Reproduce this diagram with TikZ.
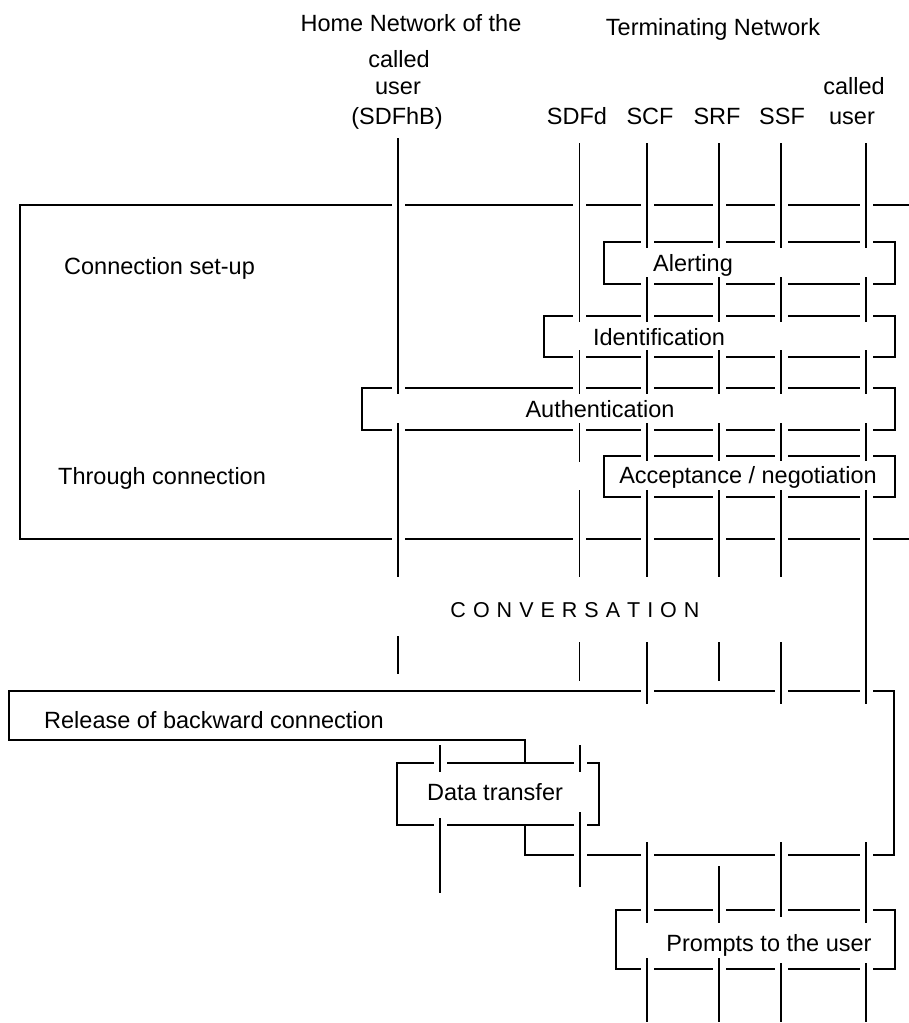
\documentclass[tikz,border=0pt]{standalone}
\usepackage{fontspec}
\setmainfont{Liberation Sans}
% one lifeline segment: x, y-from, y-to (white halo cuts the box edges it crosses)
\newcommand\lseg[4][2.5pt]{\draw[life=#1] (#2,#3) -- (#2,#4);}
\begin{document}
\begin{tikzpicture}[x=1pt,y=-1pt,
  edge/.style={line width=1.6pt},
  life/.style={line width=#1, preaction={draw=white,line width=13pt}},
  life/.default=2.5pt,
  lbl/.style={font=\fontsize{23.5}{28}\selectfont, inner sep=0pt,
              text height=16.8pt, text depth=0pt},
  lbll/.style={lbl, anchor=west}]
\useasboundingbox (0,0) rectangle (909,1023);

% ---- frames ----
\draw[edge] (909,205) -- (20,205) -- (20,539) -- (909,539);
\draw[edge] (604,242) rectangle (895,284);
\draw[edge] (544,316) rectangle (895,357);
\draw[edge] (362,388) rectangle (895,430);
\draw[edge] (604,456) rectangle (895,497);
\draw[edge] (9,691) -- (894,691) -- (894,855) -- (525,855) -- (525,740) -- (9,740) -- cycle;
\draw[edge, fill=white] (397,763) rectangle (599,825);
\draw[edge] (616,910) rectangle (895,969);

% ---- lifelines, set-up phase ----
\lseg[1.8pt]{398}{138}{394} \lseg[1.8pt]{398}{423}{577}
\lseg[1.8pt]{579.5}{143}{322} \lseg[1.8pt]{579.5}{350}{394}
\lseg[1.8pt]{579.5}{423}{462} \lseg[1.8pt]{579.5}{490}{577}
\foreach \lx in {647,719,781,866}{
  \lseg{\lx}{143}{248} \lseg{\lx}{277}{322} \lseg{\lx}{350}{394}
  \lseg{\lx}{423}{461}}
\foreach \lx in {647,719,781}{\lseg{\lx}{490}{577}}
\lseg{866}{490}{704}

% ---- lifelines after conversation ----
\lseg[2.3pt]{398}{636}{674}
\lseg[1.8pt]{579.5}{642}{681}
\lseg{647}{642}{704}
\lseg[2pt]{719}{642}{681}
\lseg{781}{642}{704}

% ---- release / data transfer ----
\lseg[2.2pt]{440}{745}{772} \lseg[2.2pt]{440}{818}{893}
\lseg[2pt]{580}{745}{772} \lseg[2pt]{580}{812}{887}

% ---- prompts ----
\lseg{647}{842}{923} \lseg{647}{958}{1022}
\lseg{719}{866}{923} \lseg{719}{958}{1022}
\lseg{781}{842}{917} \lseg{781}{963}{1022}
\lseg{866}{842}{923} \lseg{866}{963}{1022}

% ---- header ----
\node[lbl] (hnA) at (411,23) {Home Network of the};
\node[lbl] (hnB) at (399,59) {called};
\node[lbl] (hnC) at (398,86) {user};
\node[lbl] (hnD) at (397,116) {(SDFhB)};
\node[lbl] (tn)  at (713,27) {Terminating Network};
\node[lbl] (sdfd) at (577,116) {SDFd};
\node[lbl] (scf)  at (650,116) {SCF};
\node[lbl] (srf)  at (717,116) {SRF};
\node[lbl] (ssf)  at (782,116) {SSF};
\node[lbl] (cuA)  at (854,86) {called};
\node[lbl] (cuB)  at (852,116) {user};

% ---- phase and procedure labels ----
\node[lbll] (setup) at (64,266) {Connection set-up};
\node[lbll] (thru)  at (58,476) {Through connection};
\node[lbl] (alert) at (693,263) {Alerting};
\node[lbl] (ident) at (659,337) {Identification};
\node[lbl] (auth)  at (600,409) {Authentication};
\node[lbl] (accn)  at (748,475) {Acceptance / negotiation};
\node[lbl, font=\fontsize{21.5}{25}\selectfont, text height=15.4pt] (conv) at (575,610)
  {C\kern7pt O\kern7pt N\kern7pt V\kern7pt E\kern7pt R\kern7pt S\kern7pt A\kern7pt T\kern7pt I\kern7pt O\kern7pt N};
\node[lbll] (rel) at (44,720) {Release of backward connection};
\node[lbl] (dtr) at (495,792) {Data transfer};
\node[lbl] (prm) at (769,943) {Prompts to the user};
\end{tikzpicture}
\end{document}
